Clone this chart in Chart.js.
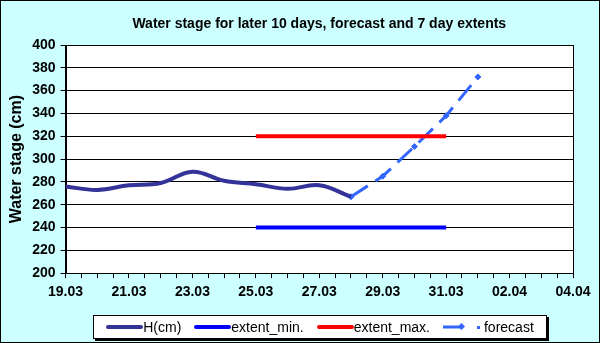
<!DOCTYPE html>
<html>
<head>
<meta charset="utf-8">
<script src="https://cdn.jsdelivr.net/npm/chart.js@4"></script>
<style>
html, body { margin: 0; padding: 0; }
body { width: 600px; height: 343px; overflow: hidden; }
#wrap { position: relative; box-sizing: border-box; width: 600px; height: 343px; border: 1px solid #000; background: #CCFFFF; }
#chart { position: absolute; left: 0; top: 0; }
#legend {
    position: absolute; left: 92px; top: 314px; width: 452px; height: 22px;
    background: #fff; border: 1px solid #000; box-shadow: 2px 2px 0 #000;
    display: flex; align-items: center; justify-content: center; gap: 13px;
    font-family: "Liberation Sans", Arial, sans-serif; font-size: 14px; color: #000;
}
#legend .item { display: flex; align-items: center; white-space: nowrap; }
#legend .line { display: inline-block; width: 37px; height: 4px; border-radius: 2px; }
</style>
</head>
<body>
<div id="wrap">
    <canvas id="chart" width="598" height="341"></canvas>
    <div id="legend"></div>
</div>
<script>
const dateLabels = ['19.03', '20.03', '21.03', '22.03', '23.03', '24.03', '25.03', '26.03', '27.03',
    '28.03', '29.03', '30.03', '31.03', '01.04', '02.04', '03.04', '04.04'];

const hDates = ['19.03', '20.03', '21.03', '22.03', '23.03', '24.03', '25.03', '26.03', '27.03', '28.03'];
const hValues = [276, 273, 277, 279, 289, 281, 278, 274, 277, 267];

const extentDates = ['25.03', '31.03'];
const extentMin = [240, 240];
const extentMax = [320, 320];

const forecastDates = ['28.03', '29.03', '30.03', '31.03', '01.04'];
const forecastValues = [267, 285, 311, 338, 372];

const FONT = '"Liberation Sans", Arial, sans-serif';

function points(dates, values) {
    return dates.map((d, i) => ({ x: dateLabels.indexOf(d), y: values[i] }));
}

// white plot area with a black frame
const plotFrame = {
    id: 'plotFrame',
    beforeDraw(chart) {
        const a = chart.chartArea, c = chart.ctx;
        c.save();
        c.fillStyle = '#fff';
        c.fillRect(a.left, a.top, a.right - a.left, a.bottom - a.top);
        c.restore();
    },
    beforeDatasetsDraw(chart) {
        const a = chart.chartArea, c = chart.ctx;
        c.save();
        c.strokeStyle = '#000';
        c.lineWidth = 1;
        c.strokeRect(Math.round(a.left) + 0.5, Math.round(a.top) + 0.5, Math.round(a.right - a.left), Math.round(a.bottom - a.top));
        c.restore();
    }
};

// title centred over the plot area, like the original
const plotTitle = {
    id: 'plotTitle',
    afterDraw(chart) {
        const a = chart.chartArea, c = chart.ctx;
        c.save();
        c.font = 'bold 14px ' + FONT;
        c.fillStyle = '#000';
        c.textAlign = 'center';
        c.textBaseline = 'alphabetic';
        c.fillText('Water stage for later 10 days, forecast and 7 day extents', (a.left + a.right) / 2, 27);
        c.restore();
    }
};

const ctx = document.getElementById('chart').getContext('2d');

new Chart(ctx, {
    type: 'line',
    data: {
        datasets: [
            {
                label: 'H(cm)',
                data: points(hDates, hValues),
                borderColor: '#333399',
                borderWidth: 4,
                pointRadius: 0,
                tension: 0.4,
                fill: false
            },
            {
                label: 'extent_min.',
                data: points(extentDates, extentMin),
                borderColor: '#0000FF',
                borderWidth: 4,
                pointRadius: 0,
                fill: false
            },
            {
                label: 'extent_max.',
                data: points(extentDates, extentMax),
                borderColor: '#FF0000',
                borderWidth: 4,
                pointRadius: 0,
                fill: false
            },
            {
                label: 'forecast',
                data: points(forecastDates, forecastValues),
                borderColor: '#3366FF',
                backgroundColor: '#3366FF',
                borderWidth: 3,
                borderDash: [20, 9],
                pointStyle: 'rectRot',
                pointRadius: 3,
                pointBorderWidth: 1,
                tension: 0,
                fill: false
            }
        ]
    },
    options: {
        responsive: false,
        animation: false,
        layout: { padding: { top: 44, right: 26, bottom: 35, left: 4 } },
        scales: {
            x: {
                type: 'linear',
                min: 0,
                max: 16,
                ticks: {
                    stepSize: 0.5,
                    autoSkip: false,
                    maxRotation: 0,
                    padding: 6,
                    color: '#000',
                    font: { family: FONT, size: 14, weight: 'bold' },
                    callback: v => (Number.isInteger(v) && v % 2 === 0) ? dateLabels[v] : ''
                },
                grid: { drawOnChartArea: false, color: '#000', tickLength: 5 },
                border: { color: '#000' }
            },
            y: {
                min: 200,
                max: 400,
                ticks: {
                    stepSize: 20,
                    padding: 5,
                    color: '#000',
                    font: { family: FONT, size: 14, weight: 'bold' }
                },
                grid: { color: '#000', tickLength: 5 },
                border: { color: '#000' },
                title: {
                    display: true,
                    text: 'Water stage (cm)',
                    color: '#000',
                    font: { family: FONT, size: 16, weight: 'bold' },
                    padding: { top: 2, bottom: 1 }
                }
            }
        },
        plugins: {
            legend: { display: false },
            title: { display: false },
            tooltip: { enabled: false }
        }
    },
    plugins: [plotFrame, plotTitle]
});

// legend drawn as html below the plot
const legendItems = [
    { text: 'H(cm)', color: '#333399', dashed: false },
    { text: 'extent_min.', color: '#0000FF', dashed: false },
    { text: 'extent_max.', color: '#FF0000', dashed: false },
    { text: 'forecast', color: '#3366FF', dashed: true }
];
const legend = document.getElementById('legend');
legendItems.forEach(it => {
    const item = document.createElement('span');
    item.className = 'item';
    if (it.dashed) {
        item.innerHTML = '<svg width="40" height="10" style="margin-right:1px">' +
            '<line x1="0" y1="5" x2="18" y2="5" stroke="' + it.color + '" stroke-width="3"/>' +
            '<rect x="16" y="2" width="5" height="5" fill="' + it.color + '" transform="rotate(45 18.5 4.5)"/>' +
            '<rect x="34" y="4" width="3" height="3" fill="' + it.color + '"/></svg>';
    } else {
        item.innerHTML = '<span class="line" style="background:' + it.color + '"></span>';
    }
    item.appendChild(document.createTextNode(it.text));
    legend.appendChild(item);
});
</script>
</body>
</html>
